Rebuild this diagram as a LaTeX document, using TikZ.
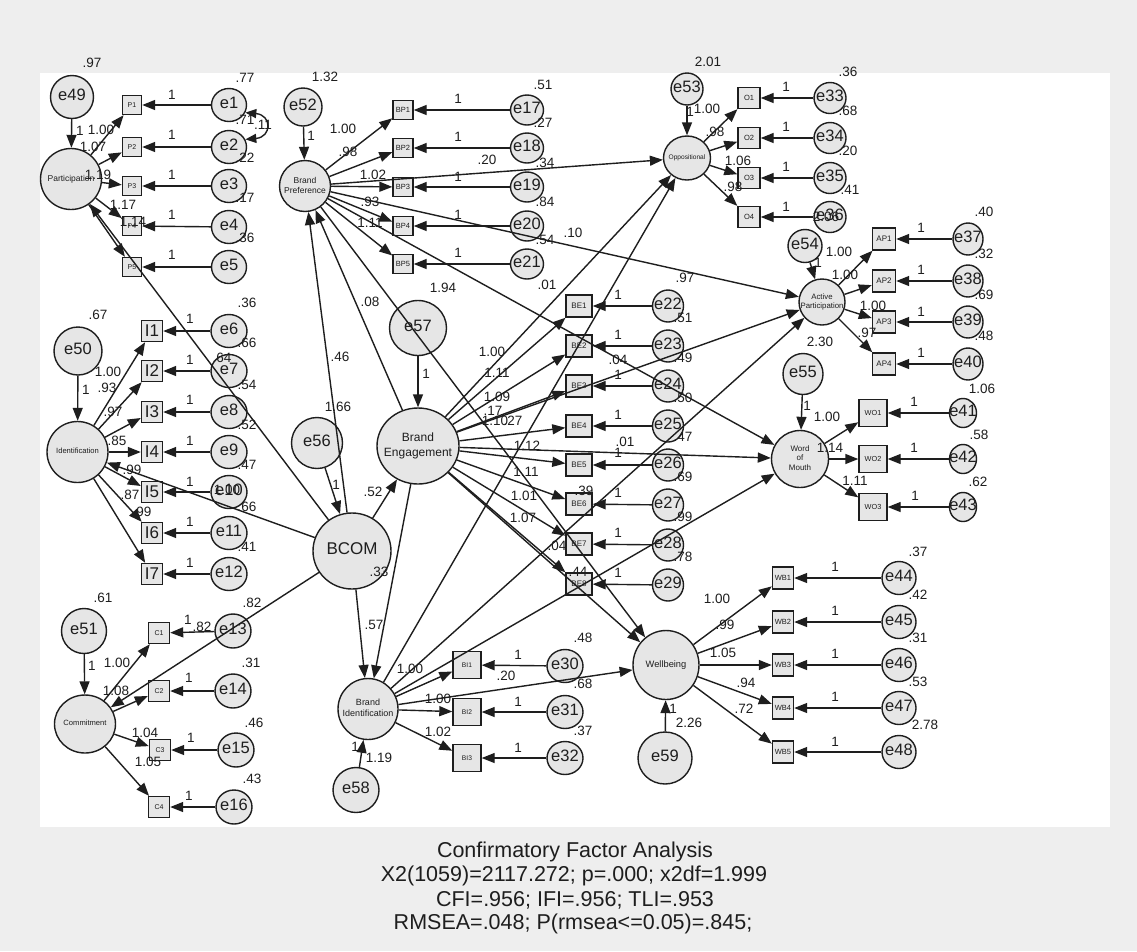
\documentclass[tikz,border=0pt]{standalone}
\usepackage{fontspec}
\setmainfont{Liberation Sans}
\usetikzlibrary{shapes.geometric,arrows.meta}
\definecolor{bgout}{HTML}{EEEEEE}
\definecolor{nfill}{HTML}{E6E6E6}
\definecolor{ink}{HTML}{1E1E1E}
\newcommand\fsz[1]{\fontsize{#1}{#1}\selectfont}
\newcommand\ctext[1]{\makebox[0pt]{\begin{tabular}{@{}c@{}}#1\end{tabular}}}
\newcounter{labc}
\tikzset{
 blob/.style={ellipse, draw=ink, fill=nfill, line width=1.4pt, inner sep=0pt, text=ink},
 ind/.style={rectangle, draw=ink, fill=nfill, line width=1.4pt, inner sep=0pt, text=ink},
 arr/.style={draw=ink, line width=1.4pt, -{Triangle[length=13pt,width=10pt]}},
 dbl/.style={draw=ink, line width=1.4pt, {Triangle[length=11pt,width=9pt]}-{Triangle[length=11pt,width=9pt]}},
 lbl/.style={inner sep=0pt, text=ink, font=\fsz{13.5}},
 ttl/.style={inner sep=0pt, text=ink, font=\fsz{21.5}},
}
% error term: name, x,y, w, h
\newcommand\err[4]{\node[blob, minimum width=#3pt, minimum height=#4pt, font=\fsz{16.5}] (#1) at (#2) {\ctext{#1}};}
% latent: name, x,y, w, h, font, text
\newcommand\lat[6]{\node[blob, minimum width=#3pt, minimum height=#4pt, font=#5] (#1) at (#2) {\ctext{#6}};}
% indicator box: name, x,y, w, h, fontsize
\newcommand\bx[5]{\node[ind, minimum width=#3pt, minimum height=#4pt, font=\fsz{#5}] (#1) at (#2) {#1};}
\newcommand\lab[2]{\stepcounter{labc}\node[lbl] (lab\arabic{labc}) at (#1) {#2};}
\begin{document}
\begin{tikzpicture}[x=1pt,y=-1pt]
\useasboundingbox (0,0) rectangle (1137,951);
\fill[bgout] (0,0) rectangle (1137,951);
\fill[white] (40,73) rectangle (1110,827);

% ---------- Participation ----------
\err{e49}{72,97}{43}{43}
\lat{Part}{71,179}{61}{61}{\fontsize{8.5}{10}\selectfont}{Participation}
\bx{P1}{132,105}{19}{19}{7}
\bx{P2}{132,147}{19}{19}{7}
\bx{P3}{132,186}{19}{19}{7}
\bx{P4}{132,226}{19}{19}{7}
\bx{P5}{132,267}{19}{19}{7}
\err{e1}{229,105}{35}{33}
\err{e2}{229,147}{35}{33}
\err{e3}{229,186}{35}{33}
\err{e4}{229,227}{35}{33}
\err{e5}{229,267}{35}{33}

% ---------- Identification ----------
\err{e50}{78,351}{48}{48}
\lat{Ident}{77.5,452}{61}{61}{\fontsize{7.6}{9}\selectfont}{Identification}
\bx{I1}{152,331}{21}{21}{17}
\bx{I2}{152,371}{21}{21}{17}
\bx{I3}{152,412}{21}{21}{17}
\bx{I4}{152,452}{21}{21}{17}
\bx{I5}{152,492}{21}{21}{17}
\bx{I6}{152,533}{21}{21}{17}
\bx{I7}{152,574}{21}{21}{17}
\err{e6}{229,331}{36}{33}
\err{e7}{229,371}{36}{33}
\err{e8}{229,412}{36}{33}
\err{e9}{229,452}{36}{33}
\err{e10}{229,492}{36}{33}
\err{e11}{229,533}{36}{33}
\err{e12}{229,574}{36}{33}

% ---------- Commitment ----------
\err{e51}{84,631}{45}{45}
\lat{Commit}{85,724}{61}{58}{\fontsize{7.6}{9}\selectfont}{Commitment}
\bx{C1}{159,633}{21}{21}{7}
\bx{C2}{159,691}{21}{21}{7}
\bx{C3}{160,750}{21}{21}{7}
\bx{C4}{159,807}{21}{21}{7}
\err{e13}{233,631}{36}{34}
\err{e14}{233,691}{36}{34}
\err{e15}{236,750}{36}{34}
\err{e16}{234,807}{36}{34}

% ---------- BCOM ----------
\lat{BCOM}{352,551}{78}{76}{\fsz{17}}{BCOM}
\err{e56}{317,443}{51}{51}

% ---------- Brand Preference ----------
\lat{BP}{305,186}{51}{51}{\fontsize{8.5}{10}\selectfont}{Brand\\Preference}
\err{e52}{303,107}{38}{38}
\bx{BP1}{403,110}{20}{19}{7.5}
\bx{BP2}{403,148}{20}{19}{7.5}
\bx{BP3}{403,187}{20}{19}{7.5}
\bx{BP4}{403,226}{20}{19}{7.5}
\bx{BP5}{403,264}{20}{19}{7.5}
\err{e17}{527,110}{33}{30}
\err{e18}{527,148}{33}{30}
\err{e19}{527,187}{33}{30}
\err{e20}{527,226}{33}{30}
\err{e21}{527,264}{33}{30}

% ---------- Brand Engagement ----------
\lat{BE}{418,446}{82}{76}{\fontsize{12}{14.5}\selectfont}{Brand\\Engagement}
\err{e57}{418,328}{57}{55}
\bx{BE1}{579,306}{26}{22}{8}
\bx{BE2}{579,346}{26}{22}{8}
\bx{BE3}{579,386}{26}{22}{8}
\bx{BE4}{579,426}{26}{22}{8}
\bx{BE5}{579,465}{26}{22}{8}
\bx{BE6}{579,504}{26}{22}{8}
\bx{BE7}{579,544}{26}{22}{8}
\bx{BE8}{579,584}{26}{22}{8}
\err{e22}{668,306}{31}{32}
\err{e23}{668,346}{31}{32}
\err{e24}{668,386}{31}{32}
\err{e25}{668,426}{31}{32}
\err{e26}{668,465}{31}{32}
\err{e27}{668,505}{31}{32}
\err{e28}{668,545}{31}{32}
\err{e29}{668,585}{31}{32}

% ---------- Brand Identification ----------
\lat{BI}{368,709}{60}{61}{\fontsize{9}{11}\selectfont}{Brand\\Identification}
\err{e58}{356,790}{46}{45}
\bx{BI1}{467,665}{28}{27}{6.7}
\bx{BI2}{467,712}{28}{27}{6.7}
\bx{BI3}{467,758}{28}{27}{6.7}
\err{e30}{565,666}{36}{33}
\err{e31}{565,712}{36}{33}
\err{e32}{565,758}{36}{33}

% ---------- Oppositional ----------
\lat{Opp}{687,158}{47}{44}{\fontsize{6.6}{8}\selectfont}{Oppositional}
\err{e53}{687,89}{32}{32}
\bx{O1}{749,98}{22}{21}{7.5}
\bx{O2}{749,138}{22}{21}{7.5}
\bx{O3}{749,178}{22}{21}{7.5}
\bx{O4}{749,217}{22}{21}{7.5}
\err{e33}{830,98}{32}{31}
\err{e34}{830,138}{32}{31}
\err{e35}{830,178}{32}{31}
\err{e36}{830,217}{32}{31}

% ---------- Active Participation ----------
\lat{AP}{822,302}{46}{46}{\fontsize{7.8}{9.5}\selectfont}{Active\\Participation}
\err{e54}{805,246}{34}{33}
\bx{AP1}{884,239}{23}{22}{8}
\bx{AP2}{884,281}{23}{22}{8}
\bx{AP3}{884,322}{23}{22}{8}
\bx{AP4}{884,364}{23}{22}{8}
\err{e37}{968,239}{30}{32}
\err{e38}{968,281}{30}{32}
\err{e39}{968,322}{30}{32}
\err{e40}{968,364}{30}{32}

% ---------- Word of Mouth ----------
\lat{WoM}{800,459}{57}{57}{\fontsize{8}{9.5}\selectfont}{Word\\of\\Mouth}
\err{e55}{803,374}{40}{41}
\bx{WO1}{873,413}{28}{27}{7.3}
\bx{WO2}{873,459}{28}{27}{7.3}
\bx{WO3}{873,507}{28}{27}{7.3}
\err{e41}{963,413}{27}{29}
\err{e42}{963,459}{27}{29}
\err{e43}{963,507}{27}{29}

% ---------- Wellbeing ----------
\lat{WB}{666,665}{66}{69}{\fontsize{9.3}{11}\selectfont}{Wellbeing}
\err{e59}{665,758}{54}{52}
\bx{WB1}{783,578}{21}{22}{7.5}
\bx{WB2}{783,622}{21}{22}{7.5}
\bx{WB3}{783,665}{21}{22}{7.5}
\bx{WB4}{783,708}{21}{22}{7.5}
\bx{WB5}{783,752}{21}{22}{7.5}
\err{e44}{899,578}{34}{33}
\err{e45}{899,622}{34}{33}
\err{e46}{899,665}{34}{33}
\err{e47}{899,708}{34}{33}
\err{e48}{899,752}{34}{33}

% ---------- connectors ----------
\foreach \a/\b in {e1/P1,e2/P2,e3/P3,e4/P4,e5/P5,
  e6/I1,e7/I2,e8/I3,e9/I4,e10/I5,e11/I6,e12/I7,
  e13/C1,e14/C2,e15/C3,e16/C4,
  e17/BP1,e18/BP2,e19/BP3,e20/BP4,e21/BP5,
  e22/BE1,e23/BE2,e24/BE3,e25/BE4,e26/BE5,e27/BE6,e28/BE7,e29/BE8,
  e30/BI1,e31/BI2,e32/BI3,
  e33/O1,e34/O2,e35/O3,e36/O4,
  e37/AP1,e38/AP2,e39/AP3,e40/AP4,
  e41/WO1,e42/WO2,e43/WO3,
  e44/WB1,e45/WB2,e46/WB3,e47/WB4,e48/WB5}
  \draw[arr] (\a) -- (\b);
\foreach \a/\b in {Part/P1,Part/P2,Part/P3,Part/P4,Part/P5,
  Ident/I1,Ident/I2,Ident/I3,Ident/I4,Ident/I5,Ident/I6,Ident/I7,
  Commit/C1,Commit/C2,Commit/C3,Commit/C4,
  BP/BP1,BP/BP2,BP/BP3,BP/BP4,BP/BP5,
  BE/BE1,BE/BE2,BE/BE3,BE/BE4,BE/BE5,BE/BE6,BE/BE7,BE/BE8,
  BI/BI1,BI/BI2,BI/BI3,
  Opp/O1,Opp/O2,Opp/O3,Opp/O4,
  AP/AP1,AP/AP2,AP/AP3,AP/AP4,
  WoM/WO1,WoM/WO2,WoM/WO3,
  WB/WB1,WB/WB2,WB/WB3,WB/WB4,WB/WB5}
  \draw[arr] (\a) -- (\b);
\foreach \a/\b in {e49/Part,e50/Ident,e51/Commit,e52/BP,e53/Opp,e54/AP,e55/WoM,e56/BCOM,e57/BE,e58/BI,e59/WB}
  \draw[arr] (\a) -- (\b);
\foreach \a/\b in {BCOM/Part,BCOM/Ident,BCOM/Commit,BCOM/BP,BCOM/BE,BCOM/BI,
  BE/BP,BE/BI,BE/Opp,BE/AP,BE/WoM,BE/WB,
  BP/Opp,BP/AP,BP/WoM,BP/WB,
  BI/Opp,BI/AP,BI/WoM,BI/WB}
  \draw[arr] (\a) -- (\b);
\draw[dbl] (e1.-25) .. controls (272,115) and (272,137) .. (e2.25);

% ---------- labels ----------
% Participation
\lab{92,63}{.97}
\lab{80,131}{1}
\lab{101,130}{1.00}
\lab{93,147}{1.07}
\lab{98,175}{1.19}
\lab{123,205}{1.17}
\lab{133,222}{1.14}
\foreach \y in {95,135,175,215,255}{\lab{172,\y}{1}}
\lab{245,78}{.77}
\lab{245,120}{.71}
\lab{263,125}{.11}
\lab{245,158}{.22}
\lab{245,198}{.17}
\lab{245,238}{.36}
% Identification
\lab{98,315}{.67}
\lab{86,390}{1}
\lab{108,372}{1.00}
\lab{107,388}{.93}
\lab{113,412}{.97}
\lab{117,441}{.85}
\lab{132,470}{.99}
\lab{130,495}{.87}
\lab{142,512}{.99}
\lab{222,358}{.64}
\lab{227,490}{1.00}
\foreach \y in {319,360,400,441,482,522,563}{\lab{190,\y}{1}}
\lab{247,303}{.36}
\lab{247,343}{.66}
\lab{247,385}{.54}
\lab{247,425}{.52}
\lab{247,465}{.47}
\lab{247,507}{.66}
\lab{247,547}{.41}
% Commitment
\lab{103,598}{.61}
\lab{92,666}{1}
\lab{117,663}{1.00}
\lab{116,691}{1.08}
\lab{145,733}{1.04}
\lab{148,762}{1.05}
\lab{188,620}{1}
\lab{202,627}{.82}
\lab{189,678}{1}
\lab{191,738}{1}
\lab{189,796}{1}
\lab{252,603}{.82}
\lab{251,663}{.31}
\lab{254,723}{.46}
\lab{252,779}{.43}
% Brand Preference
\lab{325,77}{1.32}
\lab{311,136}{1}
\lab{343,129}{1.00}
\lab{348,152}{.98}
\lab{373,175}{1.02}
\lab{370,202}{.93}
\lab{370,223}{1.11}
\foreach \y in {99,137,177,215,253}{\lab{458,\y}{1}}
\lab{543,85}{.51}
\lab{543,123}{.27}
\lab{545,163}{.34}
\lab{545,202}{.84}
\lab{545,240}{.54}
\lab{487,160}{.20}
\lab{573,233}{.10}
\lab{370,302}{.08}
\lab{340,357}{.46}
\lab{547,285}{.01}
\lab{338,407}{1.66}
\lab{443,288}{1.94}
% Brand Engagement
\lab{426,374}{1}
\lab{492,352}{1.00}
\lab{497,373}{1.11}
\lab{497,397}{1.09}
\lab{493,411}{.17}
\lab{495,421}{1.10}
\lab{513,421}{.27}
\lab{527,446}{1.12}
\lab{526,472}{1.11}
\lab{524,496}{1.01}
\lab{523,518}{1.07}
\lab{557,546}{.04}
\lab{584,491}{.39}
\lab{578,572}{.44}
\foreach \y in {295,335,375,415,453,493,533,573}{\lab{618,\y}{1}}
\lab{618,360}{.04}
\lab{625,442}{.01}
\lab{685,278}{.97}
\lab{683,318}{.51}
\lab{683,358}{.49}
\lab{683,398}{.50}
\lab{683,437}{.47}
\lab{683,477}{.69}
\lab{683,517}{.99}
\lab{683,557}{.78}
% BCOM
\lab{336,485}{1}
\lab{373,492}{.52}
\lab{379,572}{.33}
\lab{374,625}{.57}
% Brand Identification
\lab{355,747}{1}
\lab{379,758}{1.19}
\lab{410,669}{1.00}
\lab{506,676}{.20}
\lab{438,699}{1.00}
\lab{438,732}{1.02}
\lab{518,655}{1}
\lab{518,702}{1}
\lab{518,748}{1}
\lab{583,638}{.48}
\lab{583,684}{.68}
\lab{583,731}{.37}
% Oppositional
\lab{708,62}{2.01}
\lab{690,112}{1}
\lab{707,109}{1.00}
\lab{715,132}{.98}
\lab{738,161}{1.06}
\lab{733,187}{.98}
\foreach \y in {87,127,167,207}{\lab{786,\y}{1}}
\lab{848,72}{.36}
\lab{848,111}{.68}
\lab{848,151}{.20}
\lab{850,190}{.41}
\lab{826,217}{2.06}
% Active Participation
\lab{818,263}{1}
\lab{839,252}{1.00}
\lab{845,275}{1.00}
\lab{873,306}{1.00}
\lab{867,333}{.97}
\foreach \y in {228,270,312,353}{\lab{921,\y}{1}}
\lab{984,212}{.40}
\lab{984,254}{.32}
\lab{984,295}{.69}
\lab{984,336}{.48}
% Word of Mouth
\lab{820,342}{2.30}
\lab{807,406}{1}
\lab{827,417}{1.00}
\lab{830,448}{1.14}
\lab{855,481}{1.11}
\lab{914,402}{1}
\lab{914,448}{1}
\lab{915,496}{1}
\lab{982,389}{1.06}
\lab{979,435}{.58}
\lab{978,482}{.62}
% Wellbeing
\lab{673,709}{1}
\lab{689,723}{2.26}
\lab{717,599}{1.00}
\lab{725,625}{.99}
\lab{723,653}{1.05}
\lab{746,683}{.94}
\lab{744,709}{.72}
\foreach \y in {567,611,654,697,742}{\lab{835,\y}{1}}
\lab{918,552}{.37}
\lab{918,595}{.42}
\lab{918,638}{.31}
\lab{918,682}{.53}
\lab{925,725}{2.78}

% ---------- title ----------
\node[ttl] (t1) at (575,852) {Confirmatory Factor Analysis};
\node[ttl] (t2) at (574,876) {X2(1059)=2117.272; p=.000; x2df=1.999};
\node[ttl] (t3) at (575,900) {CFI=.956; IFI=.956; TLI=.953};
\node[ttl] (t4) at (573,924) {RMSEA=.048; P(rmsea<=0.05)=.845;};
\end{tikzpicture}
\end{document}
